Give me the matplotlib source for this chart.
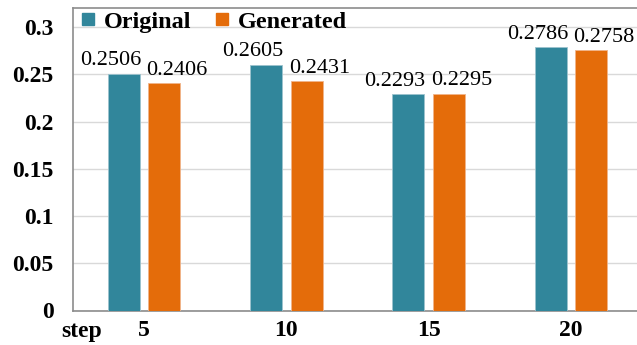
import matplotlib
matplotlib.use("Agg")
import matplotlib.pyplot as plt
import numpy as np
from matplotlib.lines import Line2D

steps = ["5", "10", "15", "20"]
original = [0.2506, 0.2605, 0.2293, 0.2786]
generated = [0.2406, 0.2431, 0.2295, 0.2758]
series_names = ["Original", "Generated"]
yticks = [0, 0.05, 0.1, 0.15, 0.2, 0.25, 0.3]
ytick_labels = ["0", "0.05", "0.1", "0.15", "0.2", "0.25", "0.3"]

c_blue = "#31869B"
c_orange = "#E46C0A"
plt.rcParams['font.family'] = ['Liberation Serif', 'DejaVu Serif']

W, H = 637, 345
fig = plt.figure(figsize=(W / 100, H / 100), dpi=100)
ax = fig.add_axes([73 / W, (H - 310.5) / H, (637 - 73) / W, (310.5 - 8) / H])

x = np.arange(len(steps))
bw = 0.225
off = 0.143
b1 = ax.bar(x - off, original, bw, color=c_blue, edgecolor="#9cc3ce", linewidth=0.6, zorder=3)
b2 = ax.bar(x + off, generated, bw, color=c_orange, edgecolor="#f0b48a", linewidth=0.6, zorder=3)

for rect, v in zip(b1, original):
    ax.annotate(f"{v:.4f}", (rect.get_x() + rect.get_width() / 2, v),
                xytext=(-9.5, 2.5), textcoords="offset points", ha="center", va="bottom",
                fontsize=16, zorder=4)
for rect, v in zip(b2, generated):
    ax.annotate(f"{v:.4f}", (rect.get_x() + rect.get_width() / 2, v),
                xytext=(9, 2.5), textcoords="offset points", ha="center", va="bottom",
                fontsize=16, zorder=4)

ax.set_xlim(-0.5, 3.465)
ax.set_ylim(0, 0.3204)
ax.set_yticks(yticks)
ax.set_yticklabels(ytick_labels, fontsize=17, fontweight="bold")
ax.set_xticks(x)
ax.set_xticklabels(steps, fontsize=17, fontweight="bold")
ax.tick_params(axis="both", length=0)
ax.tick_params(axis="y", pad=14)
ax.tick_params(axis="x", pad=7)
ax.yaxis.grid(True, color="#d9d9d9", linewidth=1.0, zorder=0)
ax.set_axisbelow(True)
for s in ["left", "top", "bottom"]:
    ax.spines[s].set_color("#8c8c8c")
    ax.spines[s].set_linewidth(1.2)
ax.spines["right"].set_visible(False)

fig.text(61 / W, (H - 331) / H, "step", fontsize=17, fontweight="bold", ha="left", va="center")

handles = [Line2D([], [], marker="s", linestyle="none", markersize=8.5, color=c_blue),
           Line2D([], [], marker="s", linestyle="none", markersize=8.5, color=c_orange)]
leg = ax.legend(handles, series_names, loc="upper left", bbox_to_anchor=(0.0, 1.015),
                frameon=False, ncol=2, prop={"size": 17.5, "weight": "bold"},
                handlelength=0.6, handletextpad=0.35, columnspacing=1.0, borderaxespad=0.3,
                borderpad=0.0)

fig.savefig("out.png", dpi=100)
